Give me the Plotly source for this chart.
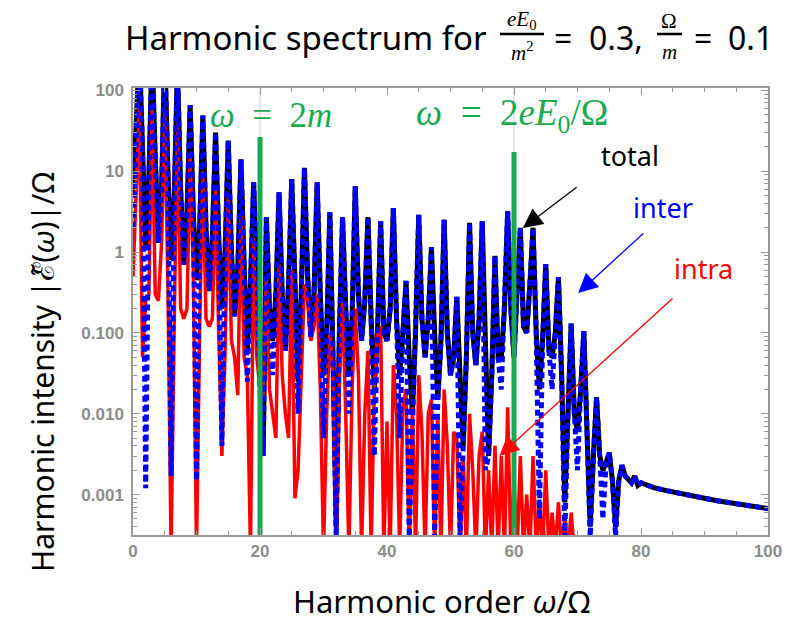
import math
import plotly.graph_objects as go

# ---------------- data ----------------
# sample grid: harmonic order 0 .. 80 in steps of 0.5, plus smooth tail 81..100
grid = [0.5 * i for i in range(161)]
tail_order = [81, 82, 84, 86, 88, 90, 92, 94, 96, 98, 100]

# each row: values at n-1, n-0.5, n, n+0.5 for odd harmonic n
total_rows = [
    [5, 40, 300, 20], [1.2, 8, 300, 15], [1.3, 6, 300, 10], [0.8, 5, 200, 6],
    [0.7, 3, 66, 3], [0.45, 2, 49, 2], [0.33, 1.5, 30, 1.5], [0.2, 1, 24, 1],
    [0.16, 0.6, 14, 0.7], [0.06, 0.4, 7.3, 0.5], [0.05, 0.003, 2.7, 0.2], [0.08, 0.3, 5.5, 0.3],
    [0.06, 0.4, 8, 0.4], [0.025, 0.3, 11, 0.5], [0.09, 0.3, 7.3, 0.3], [0.03, 0.1, 3.1, 0.05],
    [0.0004, 0.1, 2.7, 0.2], [0.03, 0.15, 6.5, 0.3], [0.08, 0.25, 2.7, 0.15], [0.02, 0.1, 2.4, 0.1],
    [0.08, 0.2, 3.5, 0.15], [0.03, 0.1, 0.44, 0.05], [0.01, 0.1, 2.9, 0.15], [0.05, 0.15, 1.15, 0.1],
    [0.015, 0.08, 2.5, 0.1], [0.03, 0.05, 0.28, 0.03], [0.004, 0.05, 2.3, 0.1], [0.04, 0.15, 2.4, 0.08],
    [0.003, 0.03, 0.9, 0.05], [0.05, 0.2, 3.2, 0.2], [0.05, 0.35, 2.0, 0.12], [0.1, 0.4, 2.0, 0.1],
    [0.02, 0.08, 0.71, 0.06], [0.05, 0.1, 0.49, 0.03], [0.0008, 0.01, 0.13, 0.01], [0.006, 0.02, 0.105, 0.006],
    [0.0004, 0.003, 0.016, 0.003], [0.002, 0.0025, 0.0033, 0.0015], [0.0004, 0.0015, 0.0023, 0.0017],
    [0.0015, 0.0014, 0.0017, 0.0013],
]
total_end = [0.0014]
total_tail = [0.0013, 0.00122, 0.00112, 0.00103, 0.00096, 0.0009, 0.00084, 0.00079, 0.00075, 0.00071, 0.00067]

inter_rows = [
    [2, 40, 300, 20], [0.0012, 8, 300, 15], [1.3, 6, 300, 10], [0.0017, 5, 200, 6],
    [0.7, 3, 66, 3], [0.0015, 2, 49, 2], [0.33, 1.5, 30, 1.5], [0.004, 1, 24, 1],
    [0.16, 0.6, 14, 0.7], [0.025, 0.4, 7.3, 0.5], [0.02, 0.003, 2.7, 0.2], [0.03, 0.3, 5.5, 0.3],
    [0.06, 0.4, 8, 0.4], [0.01, 0.3, 11, 0.5], [0.09, 0.3, 7.3, 0.3], [0.005, 0.1, 3.1, 0.05],
    [0.0003, 0.1, 2.7, 0.2], [0.01, 0.15, 6.5, 0.3], [0.08, 0.25, 2.7, 0.15], [0.003, 0.1, 2.4, 0.1],
    [0.08, 0.2, 3.5, 0.15], [0.005, 0.1, 0.44, 0.0003], [0.01, 0.1, 2.9, 0.15], [0.05, 0.15, 1.15, 0.0003],
    [0.015, 0.08, 2.5, 0.1], [0.03, 0.05, 0.28, 0.0003], [0.004, 0.05, 2.3, 0.1], [0.04, 0.15, 2.4, 0.002],
    [0.003, 0.03, 0.9, 0.05], [0.02, 0.2, 3.2, 0.2], [0.05, 0.35, 2.0, 0.12], [0.1, 0.4, 2.0, 0.1],
    [0.0005, 0.08, 0.71, 0.06], [0.02, 0.1, 0.49, 0.03], [0.0003, 0.01, 0.13, 0.01], [0.002, 0.02, 0.105, 0.006],
    [0.0003, 0.003, 0.016, 0.003], [0.0005, 0.0025, 0.0033, 0.0015], [0.0003, 0.0015, 0.0023, 0.0017],
    [0.0015, 0.0014, 0.0017, 0.0013],
]
inter_end = [0.0014]
inter_tail = [0.0013, 0.00122, 0.00112, 0.00103, 0.00096, 0.0009, 0.00084, 0.00079, 0.00075, 0.00071, 0.00067]

intra_rows = [
    [0.5, 4.5, 60, 0.05], [0.25, 0.3, 60, 0.3], [0.25, 1.3, 60, 0.4], [0.0002, 0.15, 40, 0.2],
    [0.15, 0.2, 15, 0.6], [0.0002, 0.12, 10, 0.15], [0.12, 0.15, 6, 0.1], [0.003, 0.06, 5, 0.08],
    [0.05, 0.017, 3, 0.05], [0.03, 0.0002, 1.5, 0.05], [0.02, 0.016, 0.5, 0.02], [0.01, 0.005, 0.7, 0.03],
    [0.01, 0.005, 0.6, 0.0009], [0.002, 0.03, 0.4, 0.25], [0.08, 0.12, 0.3, 0.02], [0.0002, 0.01, 0.1, 0.03],
    [0.0002, 0.03, 0.25, 0.01], [0.0002, 0.02, 0.2, 0.03], [0.0002, 0.01, 0.06, 0.0002], [0.02, 0.1, 0.12, 0.0002],
    [0.008, 0.0002, 0.04, 0.01], [0.0002, 0.012, 0.02, 0.0002], [0.012, 0.0002, 0.03, 0.006], [0.0002, 0.01, 0.015, 0.0002],
    [0.01, 0.0002, 0.02, 0.004], [0.0002, 0.006, 0.005, 0.0002], [0.003, 0.0002, 0.01, 0.002], [0.0002, 0.003, 0.006, 0.0002],
    [0.002, 0.0002, 0.004, 0.0002], [0.003, 0.0002, 0.012, 0.0002], [0.0015, 0.0002, 0.003, 0.0002], [0.001, 0.0002, 0.003, 0.0002],
    [0.0008, 0.0002, 0.002, 0.0002], [0.0006, 0.0002, 0.0008, 0.0002], [0.0005, 0.0002, 0.0006, 0.0002],
]
intra_end = [0.0002]

# vertical reference lines: harmonic order and height of the green bar
ref_orders = [20, 60]
ref_heights = [26.5, 17.3]
grid_lines = [20, 60]

y_tick_vals = [0.001, 0.01, 0.1, 1, 10, 100]
y_tick_text = ["0.001", "0.010", "0.100", "1", "10", "100"]
x_tick_vals = [0, 20, 40, 60, 80, 100]
x_tick_text = ["0", "20", "40", "60", "80", "100"]

# arrows: (tail order, tail value, tip order, tip value)
arrow_total = (70.1, 6.56, 61.4, 1.98)
arrow_inter = (80.6, 1.77, 70.1, 0.311)
arrow_intra = (85.2, 0.277, 57.7, 0.003)

# ---------------- build series ----------------
def flat(rows, end):
    out = []
    for r in rows:
        out.extend(r)
    return out + end

total = flat(total_rows, total_end) + total_tail
inter = flat(inter_rows, inter_end) + inter_tail
intra = flat(intra_rows, intra_end)
x_ti = grid + tail_order
x_ra = grid[:len(intra)]

GREEN = "#17aa4f"
GRAY = "#9a9a9a"
SANS = "Noto Sans, Open Sans, sans-serif"
SERIF = "Liberation Serif, DejaVu Serif, serif"
TICKFONT = dict(family="Liberation Sans Narrow, Liberation Sans, Arial, sans-serif", size=17, color="#8c8c8c", weight="bold")

fig = go.Figure()
fig.add_trace(go.Scatter(x=x_ti, y=total, mode="lines", line=dict(color="black", width=5), name="total"))
fig.add_trace(go.Scatter(x=x_ra, y=intra, mode="lines", line=dict(color="#ff0000", width=3.5), name="intra"))
fig.add_trace(go.Scatter(x=x_ti, y=inter, mode="lines", line=dict(color="#0000ff", width=5, dash="6px,4px"), name="inter"))
for o, h in zip(ref_orders, ref_heights):
    fig.add_trace(go.Scatter(x=[o, o], y=[1e-5, h], mode="lines", line=dict(color=GREEN, width=5), hoverinfo="skip"))

# thin gray grid lines
for g in grid_lines:
    fig.add_shape(type="line", xref="x", yref="paper", x0=g, x1=g, y0=0, y1=1,
                  line=dict(color="#cfcfcf", width=1), layer="below")

minor_y = [m * 10 ** e for e in range(-4, 3) for m in range(2, 10)]
fig.update_xaxes(range=[0, 100], tickvals=x_tick_vals, ticktext=x_tick_text, tickfont=TICKFONT, automargin=False,
                 showgrid=False, zeroline=False, showline=True, linecolor=GRAY, linewidth=1.5, mirror="allticks",
                 ticks="inside", ticklen=7, tickcolor=GRAY, tickwidth=1,
                 minor=dict(tickmode="array", tickvals=[5 * i for i in range(21)], ticks="inside", ticklen=4,
                            tickcolor=GRAY, showgrid=False))
fig.update_yaxes(type="log", range=[-3.5, 2.03], tickvals=y_tick_vals, ticktext=y_tick_text, tickfont=TICKFONT,
                 automargin=False,
                 showgrid=False, zeroline=False, showline=True, linecolor=GRAY, linewidth=1.5, mirror="allticks",
                 ticks="inside", ticklen=7, tickcolor=GRAY, tickwidth=1, ticklabelstandoff=4,
                 minor=dict(tickmode="array", tickvals=minor_y, ticks="inside", ticklen=4, tickcolor=GRAY, showgrid=False))

# page offset of the plot div (browser body margin)
OFF = 8
W, H = 788, 615
L, R, T, B = 125, 28, 80, 88
PW, PH = W - L - R, H - T - B
def px(xp):
    return (xp - OFF - L) / PW
def py(yp):
    return (H - B - (yp - OFF)) / PH

ann = []
def text(s, xp, yp, size, color="black", family=SANS, xanchor="center", angle=0):
    ann.append(dict(text=s, x=px(xp), y=py(yp), xref="paper", yref="paper", showarrow=False,
                    xanchor=xanchor, yanchor="middle", textangle=angle,
                    font=dict(size=size, color=color, family=family)))

# title pieces
text("Harmonic spectrum for", 489, 37, 33, xanchor="right")
text("<i>eE</i><sub>0</sub>", 522, 20, 21, family=SERIF)
text("<i>m</i><sup>2</sup>", 522, 52, 21, family=SERIF)
text("=", 563, 37, 32)
text("0.3,", 587, 37, 32, xanchor="left")
text("Ω", 669, 21, 21, family=SERIF)
text("<i>m</i>", 669, 52, 21, family=SERIF)
text("=", 703, 37, 32)
text("0.1", 726, 37, 32, xanchor="left")
fig.add_shape(type="line", xref="paper", yref="paper", x0=px(500), x1=px(544), y0=py(34), y1=py(34),
              line=dict(color="black", width=2.5))
fig.add_shape(type="line", xref="paper", yref="paper", x0=px(657), x1=px(682), y0=py(34), y1=py(34),
              line=dict(color="black", width=2.5))

# green labels
text("<i>ω</i>&nbsp;&nbsp;=&nbsp;&nbsp;2<i>m</i>", 208, 116, 35, color=GREEN, family=SERIF, xanchor="left")
text("<i>ω</i>&nbsp;&nbsp;=&nbsp;&nbsp;2<i>eE</i><sub>0</sub>/Ω", 414, 116, 37, color=GREEN, family=SERIF, xanchor="left")

# series labels
text("total", 630, 155, 27)
text("inter", 663, 207, 27, color="#0000ff")
text("intra", 703, 268, 27, color="#ff0000")

# axis titles
text("Harmonic order <i>ω</i>/Ω", 441, 601, 31)
text("Harmonic intensity |<i>ℰ̃</i>(<i>ω</i>)|/Ω", 42, 372, 30, angle=-90)

for (tx, tv, hx, hv), c in [(arrow_total, "black"), (arrow_inter, "#0000ff"), (arrow_intra, "#ff0000")]:
    ann.append(dict(text="", x=hx, y=math.log10(hv), ax=tx, ay=math.log10(tv), xref="x", yref="y",
                    axref="x", ayref="y", showarrow=True, arrowhead=2, arrowsize=3, arrowwidth=1.3,
                    arrowcolor=c))

fig.update_layout(width=W, height=H, margin=dict(l=L, r=R, t=T, b=B), plot_bgcolor="white",
                  paper_bgcolor="white", showlegend=False, annotations=ann)
fig.write_html("out.html")
